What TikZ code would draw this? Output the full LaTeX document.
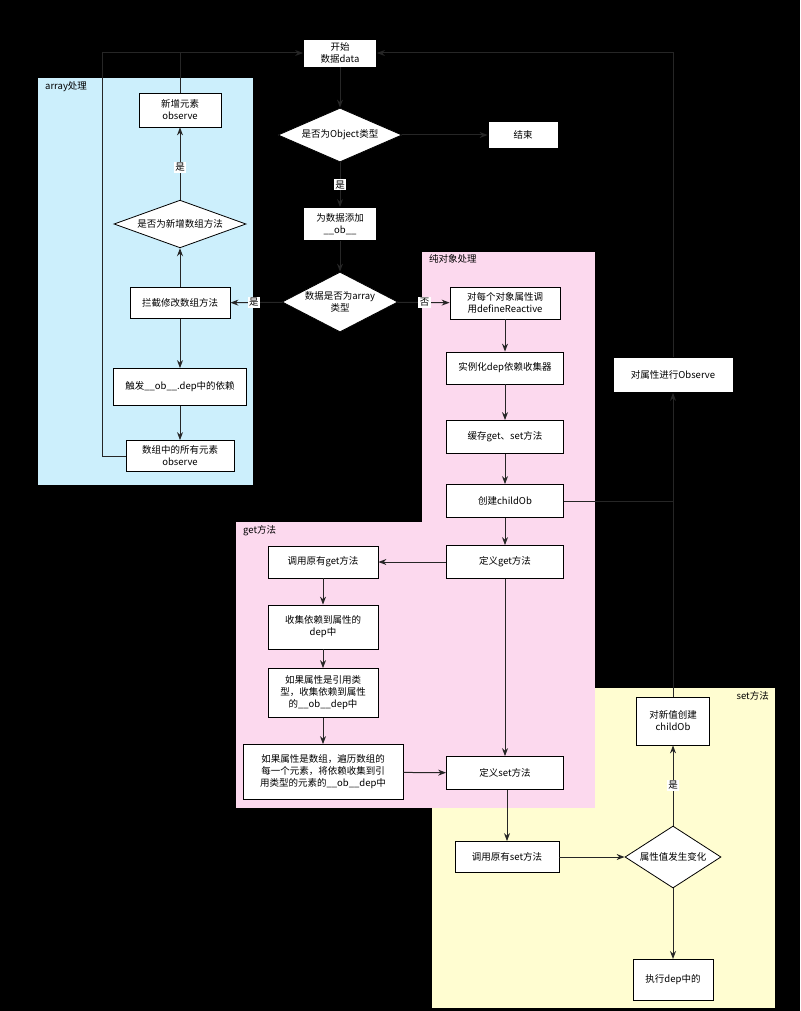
\documentclass[tikz,border=0pt]{standalone}
\usepackage{fontspec}
\setmainfont{Noto Sans CJK SC}
\usetikzlibrary{shapes.geometric,arrows.meta}
\begin{document}
\begin{tikzpicture}[x=1pt,y=-1pt,
  box/.style={draw=black,fill=white,line width=0.8pt,align=center,font=\fontsize{9.5}{12}\selectfont,inner sep=2pt},
  dia/.style={draw=black,fill=white,line width=0.8pt,diamond,aspect=2.2,align=center,font=\fontsize{9.5}{12}\selectfont,inner sep=0pt},
  ar/.style={draw=black!85,line width=1pt,-{Stealth[length=8pt,width=6pt]}},
  ln/.style={draw=black!85,line width=1pt},
  lab/.style={fill=white,font=\fontsize{9.5}{12}\selectfont,inner sep=1.5pt},
  reg/.style={font=\fontsize{9.5}{12}\selectfont,anchor=north west,inner sep=1pt}]
\fill[black] (0,0) rectangle (800,1011);
\useasboundingbox (0,0) rectangle (800,1011);
% regions
\fill[cyan!20] (38,78) rectangle (253,485);
\fill[yellow!18] (432,688) rectangle (775,1008);
\fill[magenta!15] (422,252) rectangle (595,808);
\fill[magenta!15] (236,522) rectangle (595,808);
\node[reg] (ra) at (44,80) {array处理};
\node[reg] (ro) at (428,253) {纯对象处理};
\node[reg] (rg) at (242,524) {get方法};
\node[reg,anchor=north east] (rs) at (770,690) {set方法};
% nodes
\node[box,minimum width=73,minimum height=28] (start) at (340,53) {开始\\数据data};
\node[dia,minimum width=124,minimum height=54] (d1) at (340,135) {是否为Object类型};
\node[box,minimum width=70,minimum height=27] (end) at (523,135) {结束};
\node[box,minimum width=73,minimum height=33] (ob) at (340,224) {为数据添加\\\_\_ob\_\_};
\node[dia,minimum width=96,minimum height=60] (d2) at (340,302) {数据是否为array\\类型};
\node[box,minimum width=110,minimum height=32] (o1) at (505,303) {对每个对象属性调\\用defineReactive};
\node[box,minimum width=117,minimum height=32] (o2) at (505,368) {实例化dep依赖收集器};
\node[box,minimum width=117,minimum height=33] (o3) at (505,437) {缓存get、set方法};
\node[box,minimum width=117,minimum height=33] (o4) at (505,501) {创建childOb};
\node[box,minimum width=117,minimum height=33] (o5) at (505,562) {定义get方法};
\node[box,minimum width=117,minimum height=33] (o6) at (505,773) {定义set方法};
\node[box,minimum width=110,minimum height=32] (g1) at (323,562) {调用原有get方法};
\node[box,minimum width=110,minimum height=44] (g2) at (323,627) {收集依赖到属性的\\dep中};
\node[box,minimum width=110,minimum height=49] (g3) at (323,693) {如果属性是引用类\\型，收集依赖到属性\\的\_\_ob\_\_dep中};
\node[box,minimum width=160,minimum height=55] (g4) at (323,772) {如果属性是数组，遍历数组的\\每一个元素，将依赖收集到引\\用类型的元素的\_\_ob\_\_dep中};
\node[box,minimum width=100,minimum height=31] (a1) at (180,303) {拦截修改数组方法};
\node[dia,minimum width=132,minimum height=46] (ad) at (180,224) {是否为新增数组方法};
\node[box,minimum width=82,minimum height=34] (a2) at (180,110) {新增元素\\observe};
\node[box,minimum width=133,minimum height=37] (a3) at (180,387) {触发\_\_ob\_\_.dep中的依赖};
\node[box,minimum width=108,minimum height=31] (a4) at (180,456) {数组中的所有元素\\observe};
\node[box,minimum width=104,minimum height=31] (s1) at (507,857) {调用原有set方法};
\node[dia,minimum width=96,minimum height=62] (d3) at (673,857) {属性值发生变化};
\node[box,minimum width=73,minimum height=48] (s2) at (673,721) {对新值创建\\childOb};
\node[box,minimum width=80,minimum height=41,anchor=north] (s3) at (673,959) {执行dep中的};
\node[box,minimum width=120,minimum height=35] (obs) at (673,375) {对属性进行Observe};
\coordinate (c1) at (673,53);
\coordinate (c2) at (102,53);
\coordinate (c3) at (102,456);
\coordinate (c4) at (180,53);
\coordinate (c5) at (673,501);
% edges
\draw[ar] (start) -- (d1);
\draw[ar] (d1) -- (end);
\draw[ar] (d1) -- node[lab]{是} (ob);
\draw[ar] (ob) -- (d2);
\draw[ar] (d2) -- node[lab,pos=0.55]{是} (a1);
\draw[ar] (d2) -- node[lab,pos=0.52]{否} (o1);
\draw[ar] (o1) -- (o2);
\draw[ar] (o2) -- (o3);
\draw[ar] (o3) -- (o4);
\draw[ar] (o4) -- (o5);
\draw[ln] (o4) -- (c5);
\draw[ar] (s2) -- (obs);
\draw[ar] (obs) -- (c1) -- (start);
\draw[ar] (o5) -- (g1);
\draw[ar] (o5) -- (o6);
\draw[ar] (g1) -- (g2);
\draw[ar] (g2) -- (g3);
\draw[ar] (g3) -- (g4);
\draw[ar] (g4) -- (o6);
\draw[ar] (o6.south -| s1) -- (s1);
\draw[ar] (s1) -- (d3);
\draw[ar] (d3) -- node[lab,pos=0.5]{是} (s2);
\draw[ar] (d3) -- (s3);
\draw[ar] (a1) -- (ad);
\draw[ar] (ad) -- node[lab,pos=0.45]{是} (a2);
\draw[ar] (a1) -- (a3);
\draw[ar] (a3) -- (a4);
\draw[ar] (a4) -- (c3) -- (c2) -- (start);
\draw[ln] (a2) -- (c4);
\end{tikzpicture}
\end{document}
